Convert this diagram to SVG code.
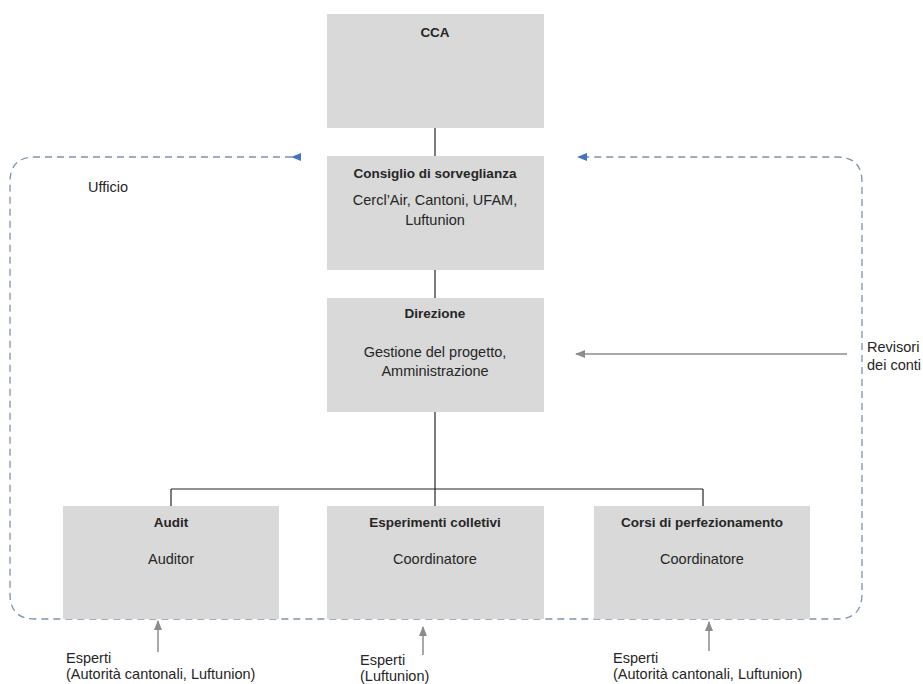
<svg xmlns="http://www.w3.org/2000/svg" width="923" height="684" viewBox="0 0 923 684">
<style>
.box{fill:#d9d9d9}
.t{font-family:"Liberation Sans",Arial,sans-serif;font-size:14.5px;fill:#262626}
.b{font-weight:bold;font-size:13.5px}
.c{text-anchor:middle}
.ln{stroke:#262626;stroke-width:1.2;fill:none}
.dash{stroke:#7f93ad;stroke-width:1.3;fill:none;stroke-dasharray:7 5}
.gray{stroke:#8c8c8c;stroke-width:1.5;fill:none}
</style>
<defs>
<marker id="ab" markerWidth="10" markerHeight="8" refX="9" refY="4" orient="auto" markerUnits="userSpaceOnUse"><path d="M0,0 L10,4 L0,8 Z" fill="#4472c4"/></marker>
<marker id="ag" markerWidth="10" markerHeight="8" refX="9" refY="4" orient="auto" markerUnits="userSpaceOnUse"><path d="M0,0 L10,4 L0,8 Z" fill="#8c8c8c"/></marker>
</defs>
<rect width="923" height="684" fill="#fff"/>
<g id="connectors">
<path class="ln" d="M435,128 V156 M435,270 V298 M435,412 V489 M171,489 H703 M171,489 V506 M435,489 V506 M703,489 V506"/>
<path class="dash" d="M292,157 H35 Q10,157 10,182 V594 Q10,619 35,619 H837 Q862,619 862,594 V182 Q862,157 837,157 H578" marker-start="url(#ab)" marker-end="url(#ab)"/>
<path class="gray" d="M847,354 H576" marker-end="url(#ag)"/>
<path class="gray" d="M158,652 V621" marker-end="url(#ag)"/>
<path class="gray" d="M423,655 V627" marker-end="url(#ag)"/>
<path class="gray" d="M709,651 V622" marker-end="url(#ag)"/>
</g>
<g id="cca"><rect class="box" x="327" y="14" width="217" height="114"/><text class="t b c" x="435" y="37">CCA</text></g>
<g id="consiglio"><rect class="box" x="327" y="156" width="217" height="114"/><text class="t b c" x="435" y="178">Consiglio di sorveglianza</text><text class="t c" x="435" y="205">Cercl’Air, Cantoni, UFAM,</text><text class="t c" x="435" y="225">Luftunion</text></g>
<g id="direzione"><rect class="box" x="327" y="298" width="217" height="114"/><text class="t b c" x="435" y="318">Direzione</text><text class="t c" x="435" y="357">Gestione del progetto,</text><text class="t c" x="435" y="376">Amministrazione</text></g>
<g id="audit"><rect class="box" x="63" y="506" width="216" height="113"/><text class="t b c" x="171" y="527">Audit</text><text class="t c" x="171" y="564">Auditor</text></g>
<g id="esperimenti"><rect class="box" x="327" y="506" width="217" height="113"/><text class="t b c" x="435" y="527">Esperimenti colletivi</text><text class="t c" x="435" y="564">Coordinatore</text></g>
<g id="corsi"><rect class="box" x="594" y="506" width="216" height="113"/><text class="t b c" x="702" y="527">Corsi di perfezionamento</text><text class="t c" x="702" y="564">Coordinatore</text></g>
<g id="ufficio"><text class="t" x="88" y="192">Ufficio</text></g>
<g id="revisori"><text class="t" x="867" y="352">Revisori</text><text class="t" x="867" y="370">dei conti</text></g>
<g id="esperti1"><text class="t" x="66" y="663">Esperti</text><text class="t" x="66" y="679">(Autorità cantonali, Luftunion)</text></g>
<g id="esperti2"><text class="t" x="360" y="665">Esperti</text><text class="t" x="360" y="681">(Luftunion)</text></g>
<g id="esperti3"><text class="t" x="613" y="663">Esperti</text><text class="t" x="613" y="679">(Autorità cantonali, Luftunion)</text></g>
</svg>
